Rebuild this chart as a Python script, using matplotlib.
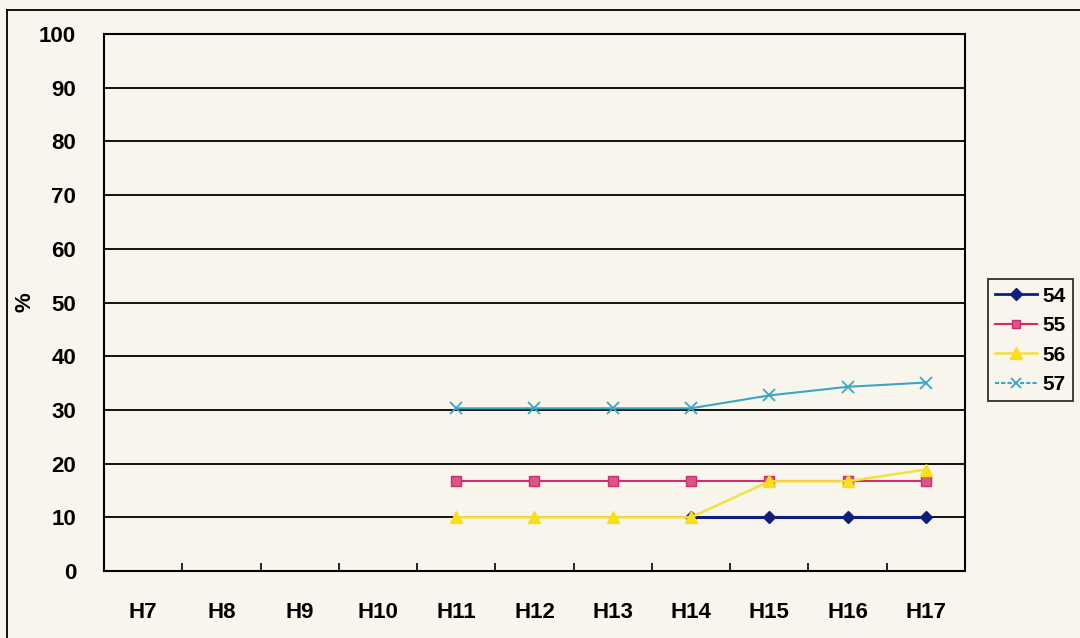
import numpy as np
import matplotlib.pyplot as plt
from matplotlib.lines import Line2D

# Survey years and percentage series
years = ["H7", "H8", "H9", "H10", "H11", "H12", "H13", "H14", "H15", "H16", "H17"]
s54 = [None, None, None, None, None, None, None, 10.0, 10.0, 10.0, 10.0]
s55 = [None, None, None, None, 16.7, 16.7, 16.7, 16.7, 16.7, 16.7, 16.7]
s56 = [None, None, None, None, 10.0, 10.0, 10.0, 10.0, 16.7, 16.7, 18.9]
s57 = [None, None, None, None, 30.3, 30.3, 30.3, 30.3, 32.7, 34.3, 35.1]
names = ["54", "55", "56", "57"]

bg = "#f7f5ec"
plt.rcParams['font.family'] = ['Liberation Sans', 'DejaVu Sans']

fig = plt.figure(figsize=(10.8, 6.38), dpi=100, facecolor=bg)
ax = fig.add_axes([0.0963, 0.105, 0.7972, 0.8417], facecolor=bg)

x = np.arange(len(years))
def arr(v):
    return np.array([np.nan if a is None else a for a in v], dtype=float)

# gridlines drawn first so series sit on top
for yv in range(10, 101, 10):
    ax.axhline(yv, color="black", lw=1.3, zorder=1)

ax.plot(x, arr(s57), color="#3aa6c4", lw=1.5, marker="x", ms=8, mew=1.3, zorder=3)
ax.plot(x, arr(s54), color="#0d1f7a", lw=2.2, marker="D", ms=6, zorder=3)
ax.plot(x, arr(s55), color="#cc2e6e", lw=1.5, marker="s", ms=7, mfc="#d9558a", mec="#cc2e6e", zorder=3)
ax.plot(x, arr(s56), color="#f4e040", lw=1.8, marker="^", ms=9, mfc="#f7df1e", mec="#f7df1e", zorder=4)

ax.set_xlim(-0.5, len(years) - 0.5)
ax.set_ylim(0, 100)
ax.set_yticks(range(0, 101, 10))
ax.set_xticks(x)
ax.set_xticklabels(years)
ax.set_xticks(np.arange(0.5, len(years) - 1, 1), minor=True)
ax.tick_params(axis="x", which="major", length=0, pad=22, labelsize=16)
ax.tick_params(axis="x", which="minor", direction="in", length=6, width=1.2)
ax.tick_params(axis="y", length=0, pad=20, labelsize=16)
for lab in ax.get_xticklabels() + ax.get_yticklabels():
    lab.set_fontweight("bold")
ax.set_ylabel("%", fontsize=16, fontweight="bold")
ax.yaxis.set_label_coords(-0.08, 0.5)
for sp in ax.spines.values():
    sp.set_color("black")
    sp.set_linewidth(1.5)

handles = [
    Line2D([], [], color="#0d1f7a", lw=2, marker="D", ms=6),
    Line2D([], [], color="#cc2e6e", lw=1.5, marker="s", ms=6, mfc="#d9558a"),
    Line2D([], [], color="#f4e040", lw=1.8, marker="^", ms=8, mfc="#f7df1e", mec="#f7df1e"),
    Line2D([], [], color="#3aa6c4", lw=1.5, ls=(0, (2, 1)), marker="x", ms=7, mew=1.3),
]
leg = fig.legend(handles, names, loc="upper left", bbox_to_anchor=(0.915, 0.562),
                 frameon=True, fancybox=False, edgecolor="black", facecolor=bg,
                 prop={"weight": "bold", "size": 15}, handlelength=2.0,
                 borderpad=0.35, labelspacing=0.5, handletextpad=0.25,
                 borderaxespad=0)
leg.get_frame().set_linewidth(1.3)

# outer frame lines on the top and left edges
fig.add_artist(Line2D([0.0065, 1.0], [0.984, 0.984], color="black", lw=1.3, transform=fig.transFigure))
fig.add_artist(Line2D([0.0065, 0.0065], [0.0, 0.984], color="black", lw=1.3, transform=fig.transFigure))

fig.savefig("out.png", dpi=100, facecolor=bg)
